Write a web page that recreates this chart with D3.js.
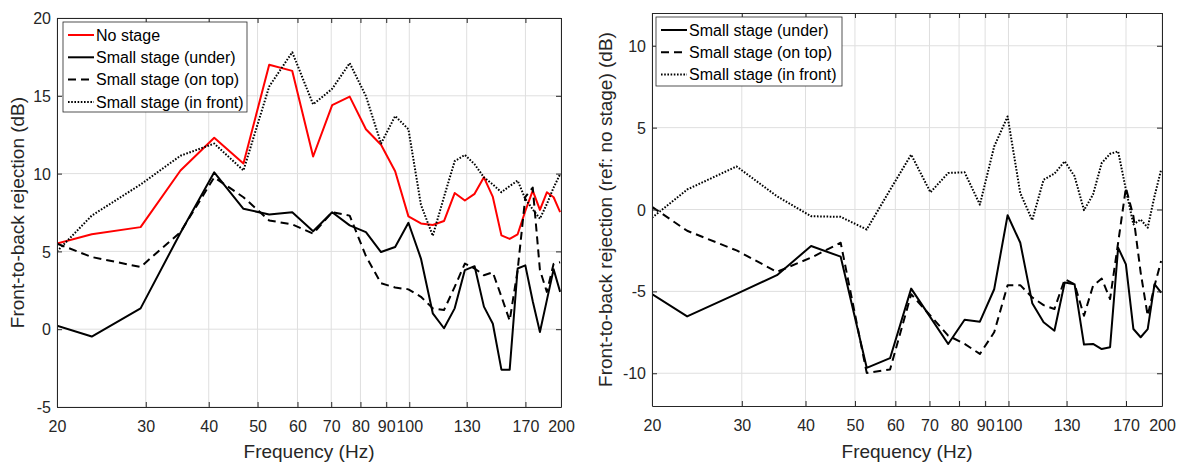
<!DOCTYPE html>
<html>
<head>
<meta charset="utf-8">
<script src="https://cdn.jsdelivr.net/npm/d3@7"></script>
<style>
  body { margin: 0; background: #fff; }
  svg { font-family: "Liberation Sans", Arial, sans-serif; }
  .tick text { fill: #262626; font-size: 16px; }
</style>
</head>
<body>
<svg id="chart" width="1185" height="463"></svg>
<script>
const svg = d3.select("#chart");

// FFT bin frequencies (Hz), first one clipped at the axis start
const freqs = [20, 23.44, 29.30, 35.16, 41.02, 46.88, 52.73, 58.59, 64.45, 70.31,
    76.17, 82.03, 87.89, 93.75, 99.61, 105.47, 111.33, 117.19, 123.05, 128.91,
    134.77, 140.63, 146.48, 152.34, 158.20, 164.06, 169.92, 175.78, 181.64, 187.50,
    193.36, 199.22];
const xTicks = [20, 30, 40, 50, 60, 70, 80, 90, 100, 130, 170, 200];

// left panel: front-to-back rejection (dB)
const noStage = [5.5, 6.1, 6.56, 10.2, 12.3, 10.65, 17.0, 16.6, 11.1, 14.4,
    14.95, 12.85, 11.85, 10.15, 7.25, 6.8, 6.7, 6.95, 8.75, 8.27,
    8.7, 9.76, 8.5, 6.03, 5.8, 6.1, 7.6, 8.9, 7.67, 8.8,
    8.48, 7.52];
const underAbs = [0.23, -0.47, 1.34, 6.2, 10.08, 7.74, 7.37, 7.52, 6.3, 7.52,
    6.67, 6.24, 4.96, 5.28, 6.84, 4.54, 1.02, 0.06, 1.34, 3.8,
    4.05, 1.45, 0.35, -2.6, -2.6, 3.9, 4.1, 1.8, -0.18, 1.87,
    3.85, 2.4];
const onTopAbs = [5.5, 4.64, 4.0, 6.24, 9.76, 8.48, 6.99, 6.73, 6.14, 7.52,
    7.3, 4.7, 2.95, 2.68, 2.56, 2.08, 1.34, 1.23, 2.72, 4.22,
    3.9, 3.47, 3.65, 2.1, 0.55, 3.8, 8.5, 9.1, 3.8, 2.4,
    4.2, 4.3];
const inFrontAbs = [5.0, 7.3, 9.3, 11.15, 11.93, 10.2, 15.6, 17.8, 14.45, 15.45,
    17.1, 14.98, 11.93, 13.7, 12.85, 8.0, 6.0, 8.5, 10.8, 11.2,
    10.6, 9.76, 9.3, 8.8, 9.2, 9.55, 8.37, 7.7, 7.1, 8.05,
    9.1, 9.97];

// right panel: rejection relative to no stage (dB)
const underRel = [-5.17, -6.53, -5.15, -4.01, -2.23, -2.88, -9.67, -9.08, -4.83, -6.59,
    -8.21, -6.73, -6.85, -4.87, -0.35, -2.03, -5.72, -6.89, -7.4, -4.46,
    -4.56, -8.25, -8.21, -8.52, -8.41, -2.33, -3.35, -7.3, -7.8, -7.3,
    -4.56, -5.07];
const onTopRel = [0.16, -1.3, -2.5, -3.81, -2.94, -2.03, -9.98, -9.77, -5.17, -6.49,
    -7.7, -8.21, -8.82, -7.5, -4.62, -4.62, -5.37, -5.84, -6.08, -4.26,
    -4.56, -6.49, -4.66, -4.22, -5.47, -2.03, 1.32, -0.41, -3.85, -6.49,
    -4.66, -3.14];
const inFrontRel = [-0.5, 1.22, 2.63, 0.81, -0.41, -0.45, -1.22, 1.2, 3.35, 1.05,
    2.23, 2.27, 0.3, 3.85, 5.68, 1.0, -0.65, 1.82, 2.19, 2.94,
    2.03, -0.04, 0.91, 2.84, 3.4, 3.55, 1.22, -0.91, -0.61, -1.11,
    0.81, 2.43];

const TEXT = "#262626";
const GRID = "#dfdfdf";
const STYLES = {
    noStage: { color: "#ff0000", dash: null },
    under: { color: "#000", dash: null },
    onTop: { color: "#000", dash: "8,5" },
    inFront: { color: "#000", dash: "1.6,1.6" },
};

function drawPanel(opts) {
    const x = d3.scaleLog().domain([20, 200]).range([opts.left, opts.right]);
    const y = d3.scaleLinear().domain(opts.yDomain).range([opts.bottom, opts.top]);
    const g = svg.append("g");

    g.append("clipPath").attr("id", opts.id + "_clip")
        .append("rect")
        .attr("x", opts.left).attr("y", opts.top)
        .attr("width", opts.right - opts.left).attr("height", opts.bottom - opts.top);

    // grid
    g.selectAll(".vgrid").data(xTicks).join("line")
        .attr("x1", d => x(d)).attr("x2", d => x(d))
        .attr("y1", opts.top).attr("y2", opts.bottom)
        .attr("stroke", GRID).attr("stroke-width", 1);
    g.selectAll(".hgrid").data(opts.yTicks).join("line")
        .attr("x1", opts.left).attr("x2", opts.right)
        .attr("y1", d => y(d)).attr("y2", d => y(d))
        .attr("stroke", GRID).attr("stroke-width", 1);

    // lines
    const line = d3.line().x((d, i) => x(freqs[i])).y(d => y(d));
    const lines = g.append("g").attr("clip-path", `url(#${opts.id}_clip)`);
    for (const s of opts.series) {
        lines.append("path")
            .attr("d", line(s.values))
            .attr("fill", "none")
            .attr("stroke", STYLES[s.key].color)
            .attr("stroke-width", 2)
            .attr("stroke-dasharray", STYLES[s.key].dash)
            .attr("stroke-linejoin", "round");
    }

    // axes, ticks inside
    const bottom = g.append("g").attr("transform", `translate(0,${opts.bottom})`)
        .call(d3.axisBottom(x).tickValues(xTicks).tickFormat(d => d)
            .tickSize(-5).tickSizeOuter(0).tickPadding(14));
    const leftAx = g.append("g").attr("transform", `translate(${opts.left},0)`)
        .call(d3.axisLeft(y).tickValues(opts.yTicks).tickFormat(d => d)
            .tickSize(-5).tickSizeOuter(0).tickPadding(6));
    const topAx = g.append("g").attr("transform", `translate(0,${opts.top})`)
        .call(d3.axisTop(x).tickValues(xTicks).tickFormat("")
            .tickSize(-5).tickSizeOuter(0));
    const rightAx = g.append("g").attr("transform", `translate(${opts.right},0)`)
        .call(d3.axisRight(y).tickValues(opts.yTicks).tickFormat("")
            .tickSize(-5).tickSizeOuter(0));
    for (const a of [bottom, leftAx, topAx, rightAx]) {
        a.attr("font-family", null).attr("font-size", null);
        a.selectAll("path, line").attr("stroke", TEXT).attr("stroke-width", 1);
    }
    leftAx.selectAll("text").attr("dy", "0.35em");

    // axis labels
    g.append("text")
        .attr("x", (opts.left + opts.right) / 2).attr("y", 458)
        .attr("text-anchor", "middle").attr("fill", TEXT).attr("font-size", 19)
        .text("Frequency (Hz)");
    g.append("text")
        .attr("transform", `translate(${opts.ylabelX},${(opts.top + opts.bottom) / 2}) rotate(-90)`)
        .attr("text-anchor", "middle").attr("fill", TEXT).attr("font-size", 19)
        .text(opts.ylabel);

    // legend
    const lg = g.append("g");
    lg.append("rect")
        .attr("x", opts.legend.x).attr("y", opts.legend.y)
        .attr("width", opts.legend.w).attr("height", opts.legend.h)
        .attr("fill", "#fff").attr("stroke", TEXT).attr("stroke-width", 0.8);
    opts.series.forEach((s, i) => {
        const cy = opts.legend.y + 13 + i * 22.3;
        lg.append("line")
            .attr("x1", opts.legend.x + 5).attr("x2", opts.legend.x + 31)
            .attr("y1", cy).attr("y2", cy)
            .attr("stroke", STYLES[s.key].color).attr("stroke-width", 2)
            .attr("stroke-dasharray", STYLES[s.key].dash);
        lg.append("text")
            .attr("x", opts.legend.x + 33).attr("y", cy).attr("dy", "0.35em")
            .attr("fill", "#000").attr("font-size", 16)
            .text(s.name);
    });
}

drawPanel({
    id: "left", left: 57, right: 561, top: 18, bottom: 407,
    yDomain: [-5, 20], yTicks: [-5, 0, 5, 10, 15, 20],
    ylabel: "Front-to-back rejection (dB)", ylabelX: 24,
    legend: { x: 63, y: 22, w: 184, h: 90 },
    series: [
        { key: "noStage", name: "No stage", values: noStage },
        { key: "under", name: "Small stage (under)", values: underAbs },
        { key: "onTop", name: "Small stage (on top)", values: onTopAbs },
        { key: "inFront", name: "Small stage (in front)", values: inFrontAbs },
    ],
});

drawPanel({
    id: "right", left: 652, right: 1162, top: 13, bottom: 406,
    yDomain: [-12, 12], yTicks: [-10, -5, 0, 5, 10],
    ylabel: "Front-to-back rejection (ref: no stage) (dB)", ylabelX: 612,
    legend: { x: 656, y: 17, w: 186, h: 69 },
    series: [
        { key: "under", name: "Small stage (under)", values: underRel },
        { key: "onTop", name: "Small stage (on top)", values: onTopRel },
        { key: "inFront", name: "Small stage (in front)", values: inFrontRel },
    ],
});
</script>
</body>
</html>
